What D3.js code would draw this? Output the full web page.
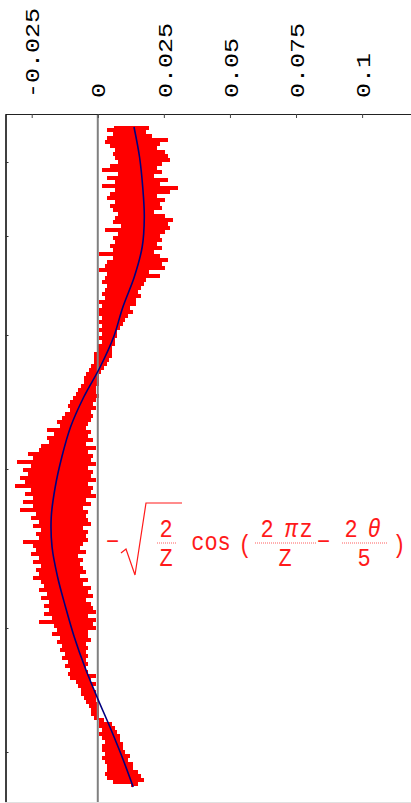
<!DOCTYPE html>
<html><head><meta charset="utf-8">
<script src="https://cdn.jsdelivr.net/npm/d3@7"></script>
<style>html,body{margin:0;padding:0;background:#fff;overflow:hidden}</style>
</head><body>
<svg id="chart" width="411" height="803"></svg>
<script>
// value-axis ticks (horizontal after rotation)
const valueTicks = [-0.025, 0, 0.025, 0.05, 0.075, 0.1];
const valueTickLabels = ["-0.025", "0", "0.025", "0.05", "0.075", "0.1"];
// sample-axis ticks (vertical, sample index units)
const sampleTicks = [17.5, 54.5, 104, 171, 250.5, 312.5];
// noisy measured series, in thousandths, one value per sample index 0..330
const redValues = [
6,19,4,18,6,20,4,26,3,23,5,22,7,25,6,26,7,27,8,24,5,22,2,24,8,21,4,26,7,23,
2,30,7,27,5,22,4,25,7,23,5,24,6,21,8,25,7,28,6,26,9,27,3,25,8,23,6,24,7,22,
5,24,6,21,1,23,6,26,4,24,3,25,1,19,4,23,3,18,2,17,4,16,3,15,2,16,3,14,1,14,
2,12,1,13,1,11,2,10,1,9,2,8,1,7,2,7,1,6,2,6,0,5,0,5,-1,5,-1,4,-1,3,
-2,2,-3,1,-4,0,-5,0,-5,0,-6,-1,-7,-1,-8,0,-9,-1,-10,-2,-11,-1,-10,-3,-12,-2,-13,-3,-15,-4,
-14,-5,-19,-3,-16,-4,-19,-2,-18,-5,-21,-1,-22,-4,-26,-2,-24,-3,-30,-1,-25,-4,-28,-2,-26,-3,-29,-1,-27,-4,
-31,-2,-25,-3,-27,-1,-24,-5,-28,-3,-24,-6,-29,-4,-23,-5,-25,-4,-22,-3,-24,-6,-21,-4,-23,-5,-22,-4,-28,-6,
-24,-7,-23,-5,-25,-8,-22,-6,-24,-7,-21,-6,-23,-5,-22,-7,-24,-4,-21,-6,-20,-3,-22,-4,-19,-2,-21,-5,-18,-3,
-20,-2,-18,-1,-20,-4,-17,-1,-22,-2,-16,-1,-15,-4,-17,-4,-14,-3,-15,-5,-13,-4,-14,-5,-12,-4,-13,-5,-11,-4,
-12,-5,-10,-4,-11,-1,-10,-3,-8,-1,-7,-2,-6,-1,-6,-1,-5,-1,-4,0,-3,0,-2,0,-2,0,-1,2,1,5,
1,6,2,7,1,8,2,8,3,9,2,9,2,10,3,12,2,11,3,13,4,13,4,15,3,16,4,17,6,15,13
];
// smooth reference curve: sample index and value (thousandths)
const blueSamples = [0,15,30,45,60,75,90,105,120,135,150,165,180,195,210,225,240,255,270,285,300,315,330];
const blueValues  = [13.7,15.8,17.0,17.6,16.8,13.8,9.5,6.0,0.9,-5.3,-10.3,-13.6,-16.1,-17.6,-17.3,-15.2,-12.2,-8.9,-4.9,-0.3,4.6,9.2,13.4];

const svg = d3.select("#chart");
const x = d3.scaleLinear().domain([-0.0351, 0.1185]).range([5, 411]);
const y = d3.scaleLinear().domain([-6.5, 337.5]).range([114, 802]);
const FONT = "'Liberation Mono', 'DejaVu Sans Mono', monospace";

// red noisy data: horizontal strokes between consecutive samples
const redLine = d3.line().x(d => x(d / 1000)).y((d, i) => y(i)).curve(d3.curveStepAfter);
svg.append("path").datum(redValues).attr("d", redLine)
  .attr("fill", "none").attr("stroke", "#ff0000").attr("stroke-width", 2)
  .attr("shape-rendering", "crispEdges");

// zero line
svg.append("line").attr("x1", x(0)).attr("x2", x(0)).attr("y1", 114).attr("y2", 803)
  .attr("stroke", "#808080").attr("stroke-width", 2);

// blue curve
const blueLine = d3.line().x(d => x(d[1] / 1000)).y(d => y(d[0])).curve(d3.curveCatmullRom);
svg.append("path").datum(blueSamples.map((s, i) => [s, blueValues[i]])).attr("d", blueLine)
  .attr("fill", "none").attr("stroke", "#000080").attr("stroke-width", 1.6);

// top axis
const topAxis = svg.append("g").attr("transform", "translate(0,114)")
  .call(d3.axisTop(x).tickValues(valueTicks).tickSizeInner(-4).tickSizeOuter(0)
    .tickFormat((d, i) => valueTickLabels[i]));
topAxis.select(".domain").attr("stroke", "#222").attr("stroke-width", 1.2);
topAxis.selectAll(".tick line").attr("stroke", "#444").attr("stroke-width", 1);
topAxis.selectAll(".tick text")
  .attr("x", 0).attr("y", 0).attr("dy", "0.36em")
  .attr("transform", "translate(0,-16) rotate(-90) scale(1.25,1)")
  .attr("text-anchor", "start")
  .attr("font-family", FONT).attr("font-size", 20).attr("fill", "#000");

// left axis
const leftAxis = svg.append("g").attr("transform", "translate(5.5,0)")
  .call(d3.axisRight(y).tickValues(sampleTicks).tickSizeInner(3).tickSizeOuter(0).tickFormat(""));
leftAxis.select(".domain").attr("stroke", "#000").attr("stroke-width", 1.5);
leftAxis.selectAll(".tick line").attr("stroke", "#333");

// bottom faint edge
svg.append("line").attr("x1", 5).attr("x2", 411).attr("y1", 802.5).attr("y2", 802.5)
  .attr("stroke", "#e0e0e0").attr("stroke-width", 1);

// formula label
const RED = "#ff1a1a";
const f = svg.append("g").attr("fill", RED).attr("font-family", FONT).attr("font-size", 22);
const t = (s, cx, by, extra = {}) => {
  const e = f.append("text").attr("transform", `translate(${cx},${by}) scale(1,1.18)`)
    .attr("text-anchor", "middle").text(s);
  Object.entries(extra).forEach(([k, v]) => e.attr(k, v));
  return e;
};
t("\u2212", 112.5, 550);
f.append("path").attr("d", "M121,553 L126,549 L135,575 L146,503 L182,503")
  .attr("fill", "none").attr("stroke", RED).attr("stroke-width", 1.2);
t("2", 166, 537);
t("Z", 166, 566);
t("cos", 211, 550);
t("(", 245, 553);
t("2", 267, 537);
t("π", 291, 537, {"font-style": "italic"});
t("z", 306, 537);
t("Z", 285, 566);
t("\u2212", 323.5, 550);
t("2", 351, 537);
t("θ", 374, 537, {"font-style": "italic"});
t("5", 364, 566);
t(")", 399, 553);
[[157, 177], [255, 317], [342, 388]].forEach(([a, b]) =>
  f.append("line").attr("x1", a).attr("x2", b).attr("y1", 543).attr("y2", 543)
   .attr("stroke", RED).attr("stroke-width", 1).attr("stroke-dasharray", "1,1").attr("opacity", 0.7));
</script>
</body></html>
